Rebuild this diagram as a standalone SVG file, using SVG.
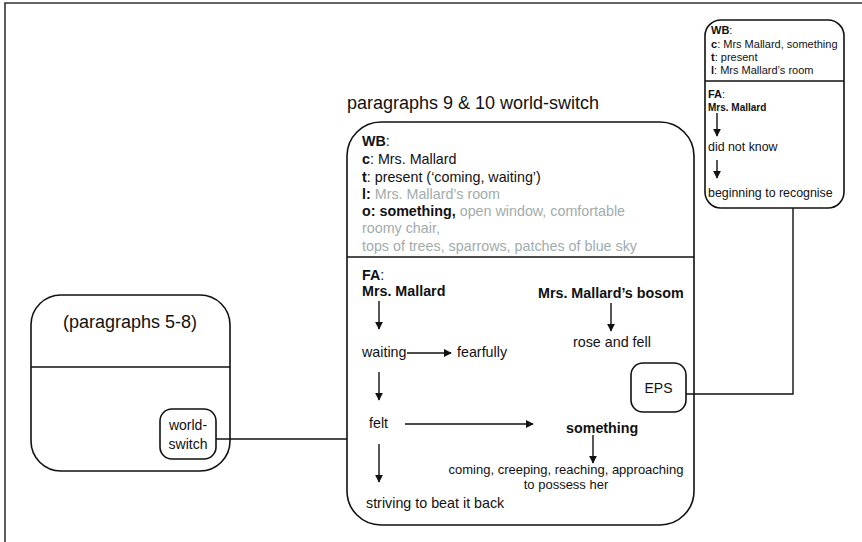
<svg xmlns="http://www.w3.org/2000/svg" width="862" height="542" viewBox="0 0 862 542">
<defs>
<style>
text{font-family:"Liberation Sans",Arial,sans-serif;fill:#111}
.b{font-weight:bold}
.g{fill:#a0acab}
.box{fill:none;stroke:#111;stroke-width:1.6}
.ln{stroke:#111;stroke-width:1.4;fill:none}
.arr{stroke:#111;stroke-width:1.4;fill:none;marker-end:url(#ah)}
</style>
<marker id="ah" viewBox="0 0 10 10" refX="9" refY="5" markerWidth="8" markerHeight="8" markerUnits="userSpaceOnUse" orient="auto"><path d="M0,0 L10,5 L0,10 z" fill="#111"/></marker>
</defs>
<rect width="862" height="542" fill="#fff"/>
<g id="frame"><path d="M5,542 V3 H862" fill="none" stroke="#333" stroke-width="1.6"/></g>

<g id="left-node">
<rect class="box" x="31" y="295" width="199" height="176" rx="30"/>
<line class="ln" x1="31" y1="367" x2="230" y2="367"/>
<text x="130" y="328" font-size="18" text-anchor="middle">(paragraphs 5-8)</text>
</g>
<g id="world-switch">
<rect class="box" x="160" y="409" width="56" height="50" rx="12"/>
<text x="188" y="430" font-size="14" text-anchor="middle">world-</text>
<text x="188" y="449" font-size="14" text-anchor="middle">switch</text>
</g>

<g id="main-node">
<text x="347" y="109" font-size="18">paragraphs 9 &amp; 10 world-switch</text>
<rect class="box" x="347" y="122" width="347" height="403" rx="34"/>
<line class="ln" x1="347" y1="257" x2="694" y2="257"/>
<g font-size="14.3">
<text x="362" y="146"><tspan class="b">WB</tspan>:</text>
<text x="362" y="164"><tspan class="b">c</tspan>: Mrs. Mallard</text>
<text x="362" y="182"><tspan class="b">t</tspan>: present (‘coming, waiting’)</text>
<text x="362" y="199"><tspan class="b">l:</tspan> <tspan class="g">Mrs. Mallard’s room</tspan></text>
<text x="362" y="216"><tspan class="b">o: something,</tspan> <tspan class="g">open window, comfortable</tspan></text>
<text x="362" y="233" class="g">roomy chair,</text>
<text x="362" y="251" class="g">tops of trees, sparrows, patches of blue sky</text>
<text x="362" y="280"><tspan class="b">FA</tspan>:</text>
<text x="362" y="296" class="b">Mrs. Mallard</text>
<text x="538" y="298" class="b">Mrs. Mallard’s bosom</text>
<text x="573" y="347">rose and fell</text>
<text x="362" y="357">waiting</text>
<text x="457" y="357">fearfully</text>
<text x="369" y="428">felt</text>
<text x="566" y="433" class="b">something</text>
<text x="366" y="508">striving to beat it back</text>
</g>
<g font-size="13" text-anchor="middle">
<text x="566" y="474">coming, creeping, reaching, approaching</text>
<text x="566" y="489">to possess her</text>
</g>
</g>

<g id="eps">
<rect class="box" x="631" y="363" width="55" height="49" rx="12"/>
<text x="658.5" y="393" font-size="14" text-anchor="middle">EPS</text>
</g>

<g id="top-right-node">
<rect class="box" x="705" y="20" width="139" height="188" rx="16"/>
<line class="ln" x1="705" y1="81" x2="844" y2="81"/>
<g font-size="11">
<text x="711" y="34"><tspan class="b">WB</tspan>:</text>
<text x="711" y="48"><tspan class="b">c</tspan>: Mrs Mallard, something</text>
<text x="711" y="61"><tspan class="b">t</tspan>: present</text>
<text x="711" y="74"><tspan class="b">l</tspan>: Mrs Mallard’s room</text>
<text x="708" y="98"><tspan class="b">FA</tspan>:</text>
<text x="708" y="111" class="b" font-size="10">Mrs. Mallard</text>
<text x="708" y="151" font-size="12.4">did not know</text>
<text x="708" y="197" font-size="12.4">beginning to recognise</text>
</g>
</g>

<g id="connectors">
<line class="arr" x1="379" y1="301" x2="379" y2="329"/>
<line class="arr" x1="379" y1="372" x2="379" y2="400"/>
<line class="arr" x1="379" y1="444" x2="379" y2="482"/>
<line class="arr" x1="407" y1="353" x2="451" y2="353"/>
<line class="arr" x1="405" y1="424" x2="533" y2="424"/>
<line class="arr" x1="611" y1="303" x2="611" y2="331"/>
<line class="arr" x1="593" y1="435" x2="593" y2="463"/>
<line class="arr" x1="717" y1="113" x2="717" y2="136"/>
<line class="arr" x1="717" y1="160" x2="717" y2="178"/>
<line class="ln" x1="216" y1="439" x2="347" y2="439"/>
<path class="ln" d="M686,394 H793 V208"/>
</g>
</svg>
